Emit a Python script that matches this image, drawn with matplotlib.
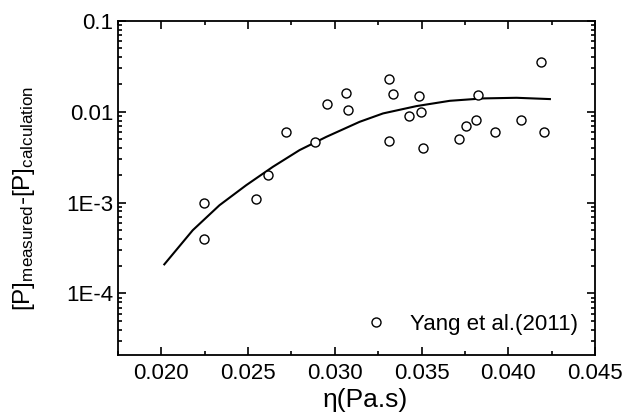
import matplotlib
matplotlib.use("Agg")
import matplotlib.pyplot as plt
from matplotlib.ticker import FixedLocator, LogLocator, NullFormatter, MultipleLocator

plt.rcParams['font.family'] = ['Liberation Sans', 'DejaVu Sans']
plt.rcParams['mathtext.fontset'] = 'custom'
plt.rcParams['mathtext.rm'] = 'Liberation Sans'
plt.rcParams['mathtext.it'] = 'Liberation Sans:italic'

# measured data (Yang et al. 2011)
eta_pts = [0.02244, 0.02244, 0.02544, 0.02616, 0.02716, 0.02887, 0.02955, 0.03066,
           0.03075, 0.03314, 0.03314, 0.03335, 0.03425, 0.03485, 0.03495, 0.03506,
           0.03716, 0.03755, 0.03816, 0.03826, 0.03926, 0.04074, 0.04186, 0.04205]
dp_pts = [1.0e-3, 4.0e-4, 1.1e-3, 2.0e-3, 6.0e-3, 4.6e-3, 0.0121, 0.0160,
          0.0105, 0.0231, 0.0048, 0.0156, 0.0090, 0.0148, 0.0099, 0.0040,
          0.0050, 0.0070, 0.0081, 0.0152, 0.0060, 0.0081, 0.0351, 0.0060]

# calculated curve
eta_fit = [0.02017, 0.02181, 0.02335, 0.02489, 0.02643, 0.02797, 0.02951,
           0.03143, 0.03278, 0.03471, 0.03663, 0.03855, 0.04048, 0.04240]
dp_fit = [2.09e-4, 4.97e-4, 9.36e-4, 1.555e-3, 2.48e-3, 3.79e-3, 5.30e-3,
          7.76e-3, 9.60e-3, 1.156e-2, 1.322e-2, 1.405e-2, 1.427e-2, 1.381e-2]

x_ticks = [0.020, 0.025, 0.030, 0.035, 0.040, 0.045]
x_tick_labels = ['0.020', '0.025', '0.030', '0.035', '0.040', '0.045']
y_ticks = [1e-4, 1e-3, 1e-2, 1e-1]
y_tick_labels = ['1E-4', '1E-3', '0.01', '0.1']

fig = plt.figure(figsize=(6.33, 4.15), dpi=100)
ax = fig.add_axes([118/633, 1 - 355/415, (595-118)/633, (355-21)/415])

ax.plot(eta_fit, dp_fit, color='black', lw=1.5)
ax.plot(eta_pts, dp_pts, linestyle='none', marker='o', ms=6.5, mfc='white',
        mec='black', mew=1.0, label='Yang et al.(2011)')

ax.set_yscale('log')
ax.set_xlim(0.0175, 0.045)
ax.set_ylim(2.1e-5, 0.1)

ax.xaxis.set_major_locator(FixedLocator(x_ticks))
ax.set_xticklabels(x_tick_labels)
ax.xaxis.set_minor_locator(MultipleLocator(0.0025))
ax.yaxis.set_major_locator(FixedLocator(y_ticks))
ax.set_yticklabels(y_tick_labels)
ax.yaxis.set_minor_locator(LogLocator(base=10, subs=range(2, 10)))
ax.yaxis.set_minor_formatter(NullFormatter())

ax.tick_params(which='both', direction='in', top=True, right=True, labelsize=16, width=1.2)
ax.tick_params(which='major', length=6)
ax.tick_params(which='minor', length=3)
ax.tick_params(axis='x', pad=6)
for s in ax.spines.values():
    s.set_linewidth(1.3)

ax.set_xlabel('η(Pa.s)', fontsize=19)
ax.xaxis.set_label_coords(0.518, -0.135)
ax.xaxis.label.set_va('center')
ax.set_ylabel('[P]$_{\\mathrm{measured}}$-[P]$_{\\mathrm{calculation}}$', fontsize=17.5)
ax.yaxis.set_label_coords(-0.197, 0.468)
ax.yaxis.label.set_va('center')

leg = ax.legend(loc='center left', frameon=False, fontsize=16, handlelength=1.0,
                handletextpad=1.03, borderaxespad=0.0, bbox_to_anchor=(0.498, 0.092))

fig.savefig('out.png', dpi=100)
